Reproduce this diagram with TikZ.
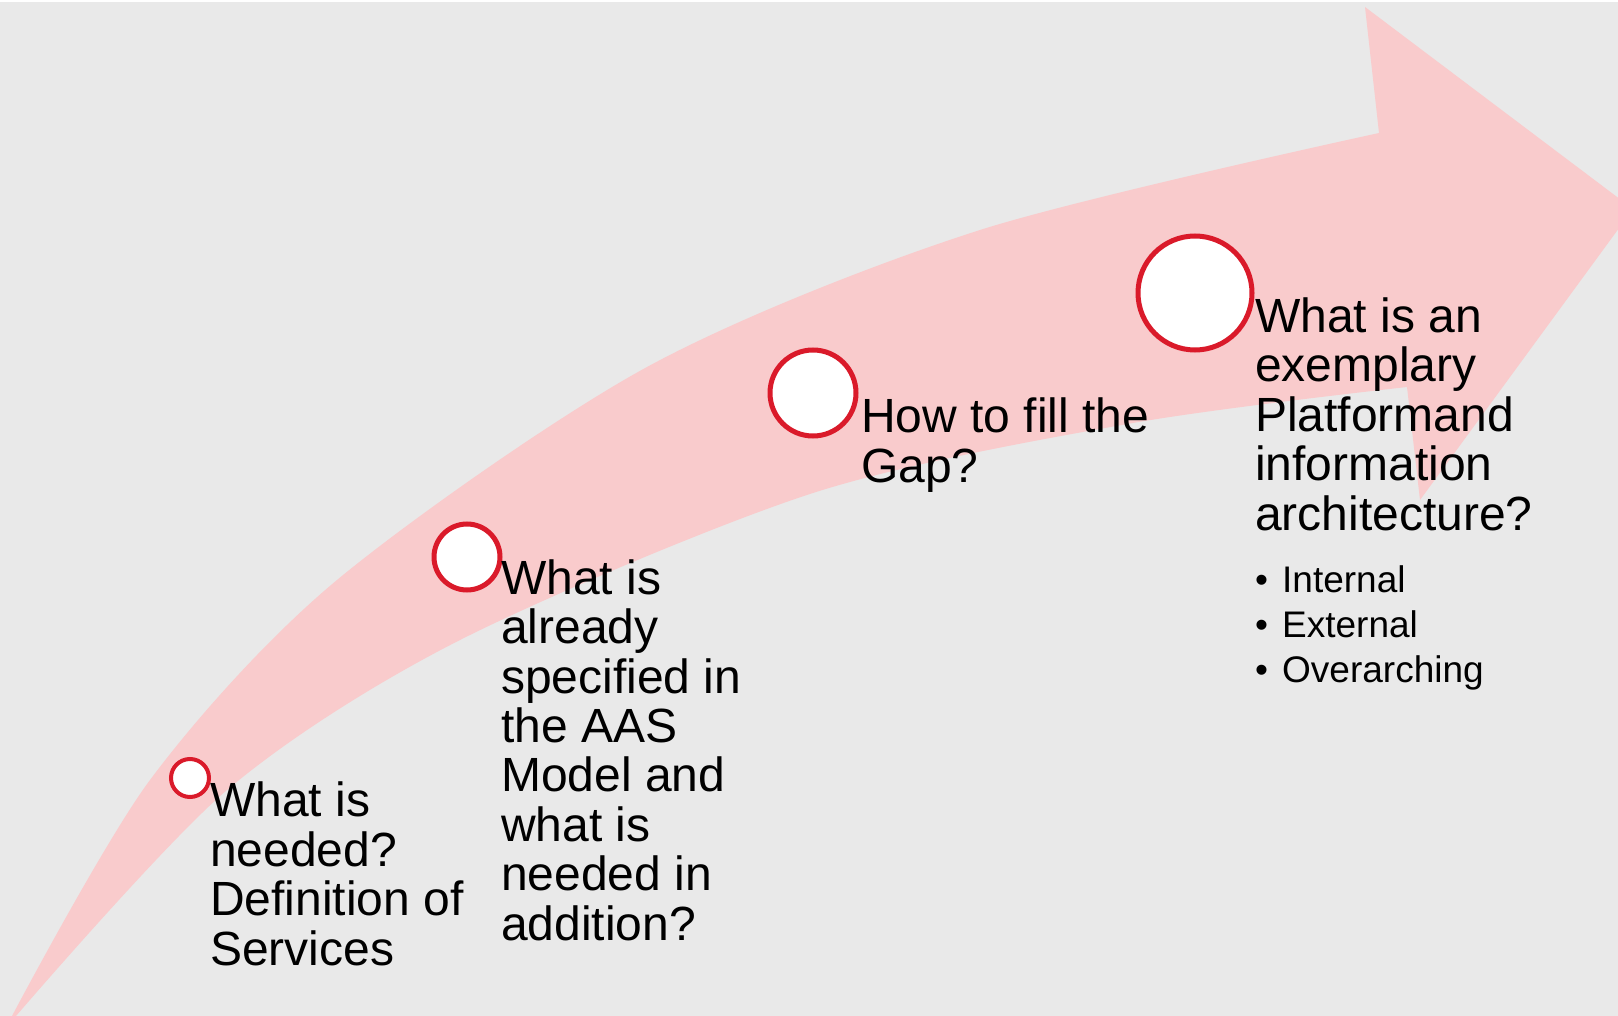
\documentclass[tikz,border=0pt]{standalone}
\usepackage{fontspec}
\setmainfont{Liberation Sans}
\usetikzlibrary{positioning}

\definecolor{bggray}{HTML}{E9E9E9}
\definecolor{bandpink}{HTML}{F9CBCC}
\definecolor{ringred}{HTML}{DA1A2A}

\tikzset{
  milestone/.style={circle, draw=ringred, fill=white, line width=5pt, inner sep=0pt},
  question/.style={anchor=base west, align=left, inner sep=0pt, font=\fontsize{48}{49.4}\selectfont},
  bulletlist/.style={anchor=base west, align=left, inner sep=0pt, font=\fontsize{37}{45}\selectfont}
}

\begin{document}
\begin{tikzpicture}[x=1pt, y=-1pt]
    % Background
    \useasboundingbox (0,0) rectangle (1618,1016);
    \fill[white] (0,0) rectangle (1618,1016);
    \fill[bggray] (0,2) rectangle (1618,1016);
    \clip (0,0) rectangle (1618,1016);

    % Curved band ending in the arrow head
    \fill[bandpink] plot[smooth] coordinates {(12,1016) (150,780) (337,580) (647,367) (980,230) (1379,133)}
      -- (1365,7) -- (1633,209) -- (1420,500) -- (1407,387)
      -- plot[smooth] coordinates {(1407,387) (1133,423) (813,493) (460,640) (227,790) (16,1016)}
      -- cycle;

    % Milestones along the band
    \node[milestone, minimum size=38pt, line width=4pt] (m1) at (190,778) {};
    \node[milestone, minimum size=66pt] (m2) at (467,557) {};
    \node[milestone, minimum size=86pt] (m3) at (813,393) {};
    \node[milestone, minimum size=114pt] (m4) at (1195,293) {};

    % Questions (placed at the baseline of their last line)
    \node[question] (q1) at (210,965) {What is\\needed?\\Definition of\\Services};
    \node[question] (q2) at (501,940) {What is\\already\\specified in\\the AAS\\Model and\\what is\\needed in\\addition?};
    \node[question] (q3) at (861,482) {How to fill the\\Gap?};
    \node[question] (q4) at (1255,530) {What is an\\exemplary\\Platformand\\information\\architecture?};
    \node[bulletlist] (b4) at (1255,682) {\makebox[27pt][l]{\textbullet}Internal\\\makebox[27pt][l]{\textbullet}External\\\makebox[27pt][l]{\textbullet}Overarching};
\end{tikzpicture}
\end{document}
